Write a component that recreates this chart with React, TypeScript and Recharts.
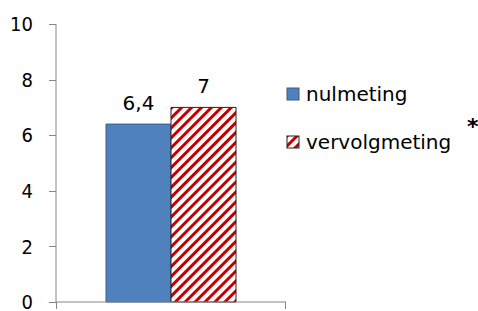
import { BarChart, Bar, XAxis, YAxis, LabelList } from 'recharts'

const categories = ['']
const nulmeting = [6.4]
const vervolgmeting = [7]
const yTicks = [0, 2, 4, 6, 8, 10]

const data = categories.map((name, i) => ({
  name,
  nulmeting: nulmeting[i],
  vervolgmeting: vervolgmeting[i],
}))

const FONT = '"DejaVu Sans", sans-serif'
const TICK_FONT = '"DejaVu Sans Condensed", "DejaVu Sans", sans-serif'
const AXIS = '#868686'
const Y_W = 56
const PLOT_W = 478 - 192 - Y_W

const fmt = (v: any) => String(v).replace('.', ',')

// tick marks drawn by hand so they land on whole pixels
const YTick = (props: any) => {
  const { x, y, payload } = props
  const ly = Math.round(payload.coordinate ?? y) + 0.5
  return (
    <g>
      <path d={`M${Y_W - 7},${ly}H${Y_W}`} stroke={AXIS} strokeWidth={1} fill="none" />
      <text x={x} y={y} dy="0.355em" textAnchor="end" fill="#000" fontSize={20} fontFamily={TICK_FONT}>
        {payload.value}
      </text>
    </g>
  )
}

// excel-style marks on the category edges, not the middle
const CatTick = (props: any) => {
  const { x, y } = props
  const left = Math.round(x - PLOT_W / 2) + 0.5
  const right = Math.round(x + PLOT_W / 2) - 0.5
  return (
    <g>
      <line x1={left} x2={left} y1={y} y2={y + 7} stroke={AXIS} />
      <line x1={right} x2={right} y1={y} y2={y + 7} stroke={AXIS} />
    </g>
  )
}

function LegendBox() {
  const row = { display: 'flex', alignItems: 'center', height: 24 } as const
  return (
    <div style={{ position: 'absolute', left: 286, top: 82, width: 192, fontFamily: FONT, fontSize: 20, color: '#000' }}>
      <div style={row}>
        <svg width={15} height={15} style={{ marginRight: 5 }}>
          <rect x={1} y={1} width={12} height={12} fill="#4f81bd" stroke="#385d8a" strokeWidth={1} />
        </svg>
        nulmeting
      </div>
      <div style={{ ...row, marginTop: 24 }}>
        <svg width={15} height={15} style={{ marginRight: 5 }}>
          <rect x={1} y={1} width={12} height={12} fill="url(#stripes)" stroke="#222" strokeWidth={1} />
        </svg>
        vervolgmeting
      </div>
      <div style={{ position: 'absolute', left: 181, top: 32, fontSize: 22, fontWeight: 'bold' }}>*</div>
    </div>
  )
}

export default function App() {
  return (
    <div style={{ position: 'absolute', left: 0, top: 0, width: 478, height: 311 }}>
      <BarChart
        width={478}
        height={311}
        data={data}
        margin={{ top: 24, right: 192, bottom: 0, left: 0 }}
        barCategoryGap={50}
        barGap={0}
      >
        <defs>
          <pattern id="stripes" width={7} height={7} patternUnits="userSpaceOnUse" patternTransform="rotate(45)">
            <rect x={0} y={0} width={7} height={7} fill="#fff" />
            <rect x={0} y={0} width={3} height={7} fill="#c00000" />
          </pattern>
        </defs>
        <XAxis
          dataKey="name"
          height={9}
          tickSize={0}
          tickMargin={0}
          tickLine={false}
          tick={<CatTick />}
          axisLine={{ stroke: AXIS }}
        />
        <YAxis
          domain={[0, 10]}
          ticks={yTicks}
          width={Y_W}
          tickSize={7}
          tickMargin={16}
          interval={0}
          axisLine={{ stroke: AXIS }}
          tickLine={false}
          tick={<YTick />}
        />
        <Bar dataKey="nulmeting" fill="#4f81bd" stroke="#385d8a" strokeWidth={1} isAnimationActive={false}>
          <LabelList dataKey="nulmeting" position="top" offset={14} formatter={fmt} fill="#000" fontSize={20} fontFamily={FONT} />
        </Bar>
        <Bar dataKey="vervolgmeting" fill="url(#stripes)" stroke="#222" strokeWidth={1} isAnimationActive={false}>
          <LabelList dataKey="vervolgmeting" position="top" offset={14} formatter={fmt} fill="#000" fontSize={20} fontFamily={FONT} />
        </Bar>
      </BarChart>
      <LegendBox />
    </div>
  )
}
